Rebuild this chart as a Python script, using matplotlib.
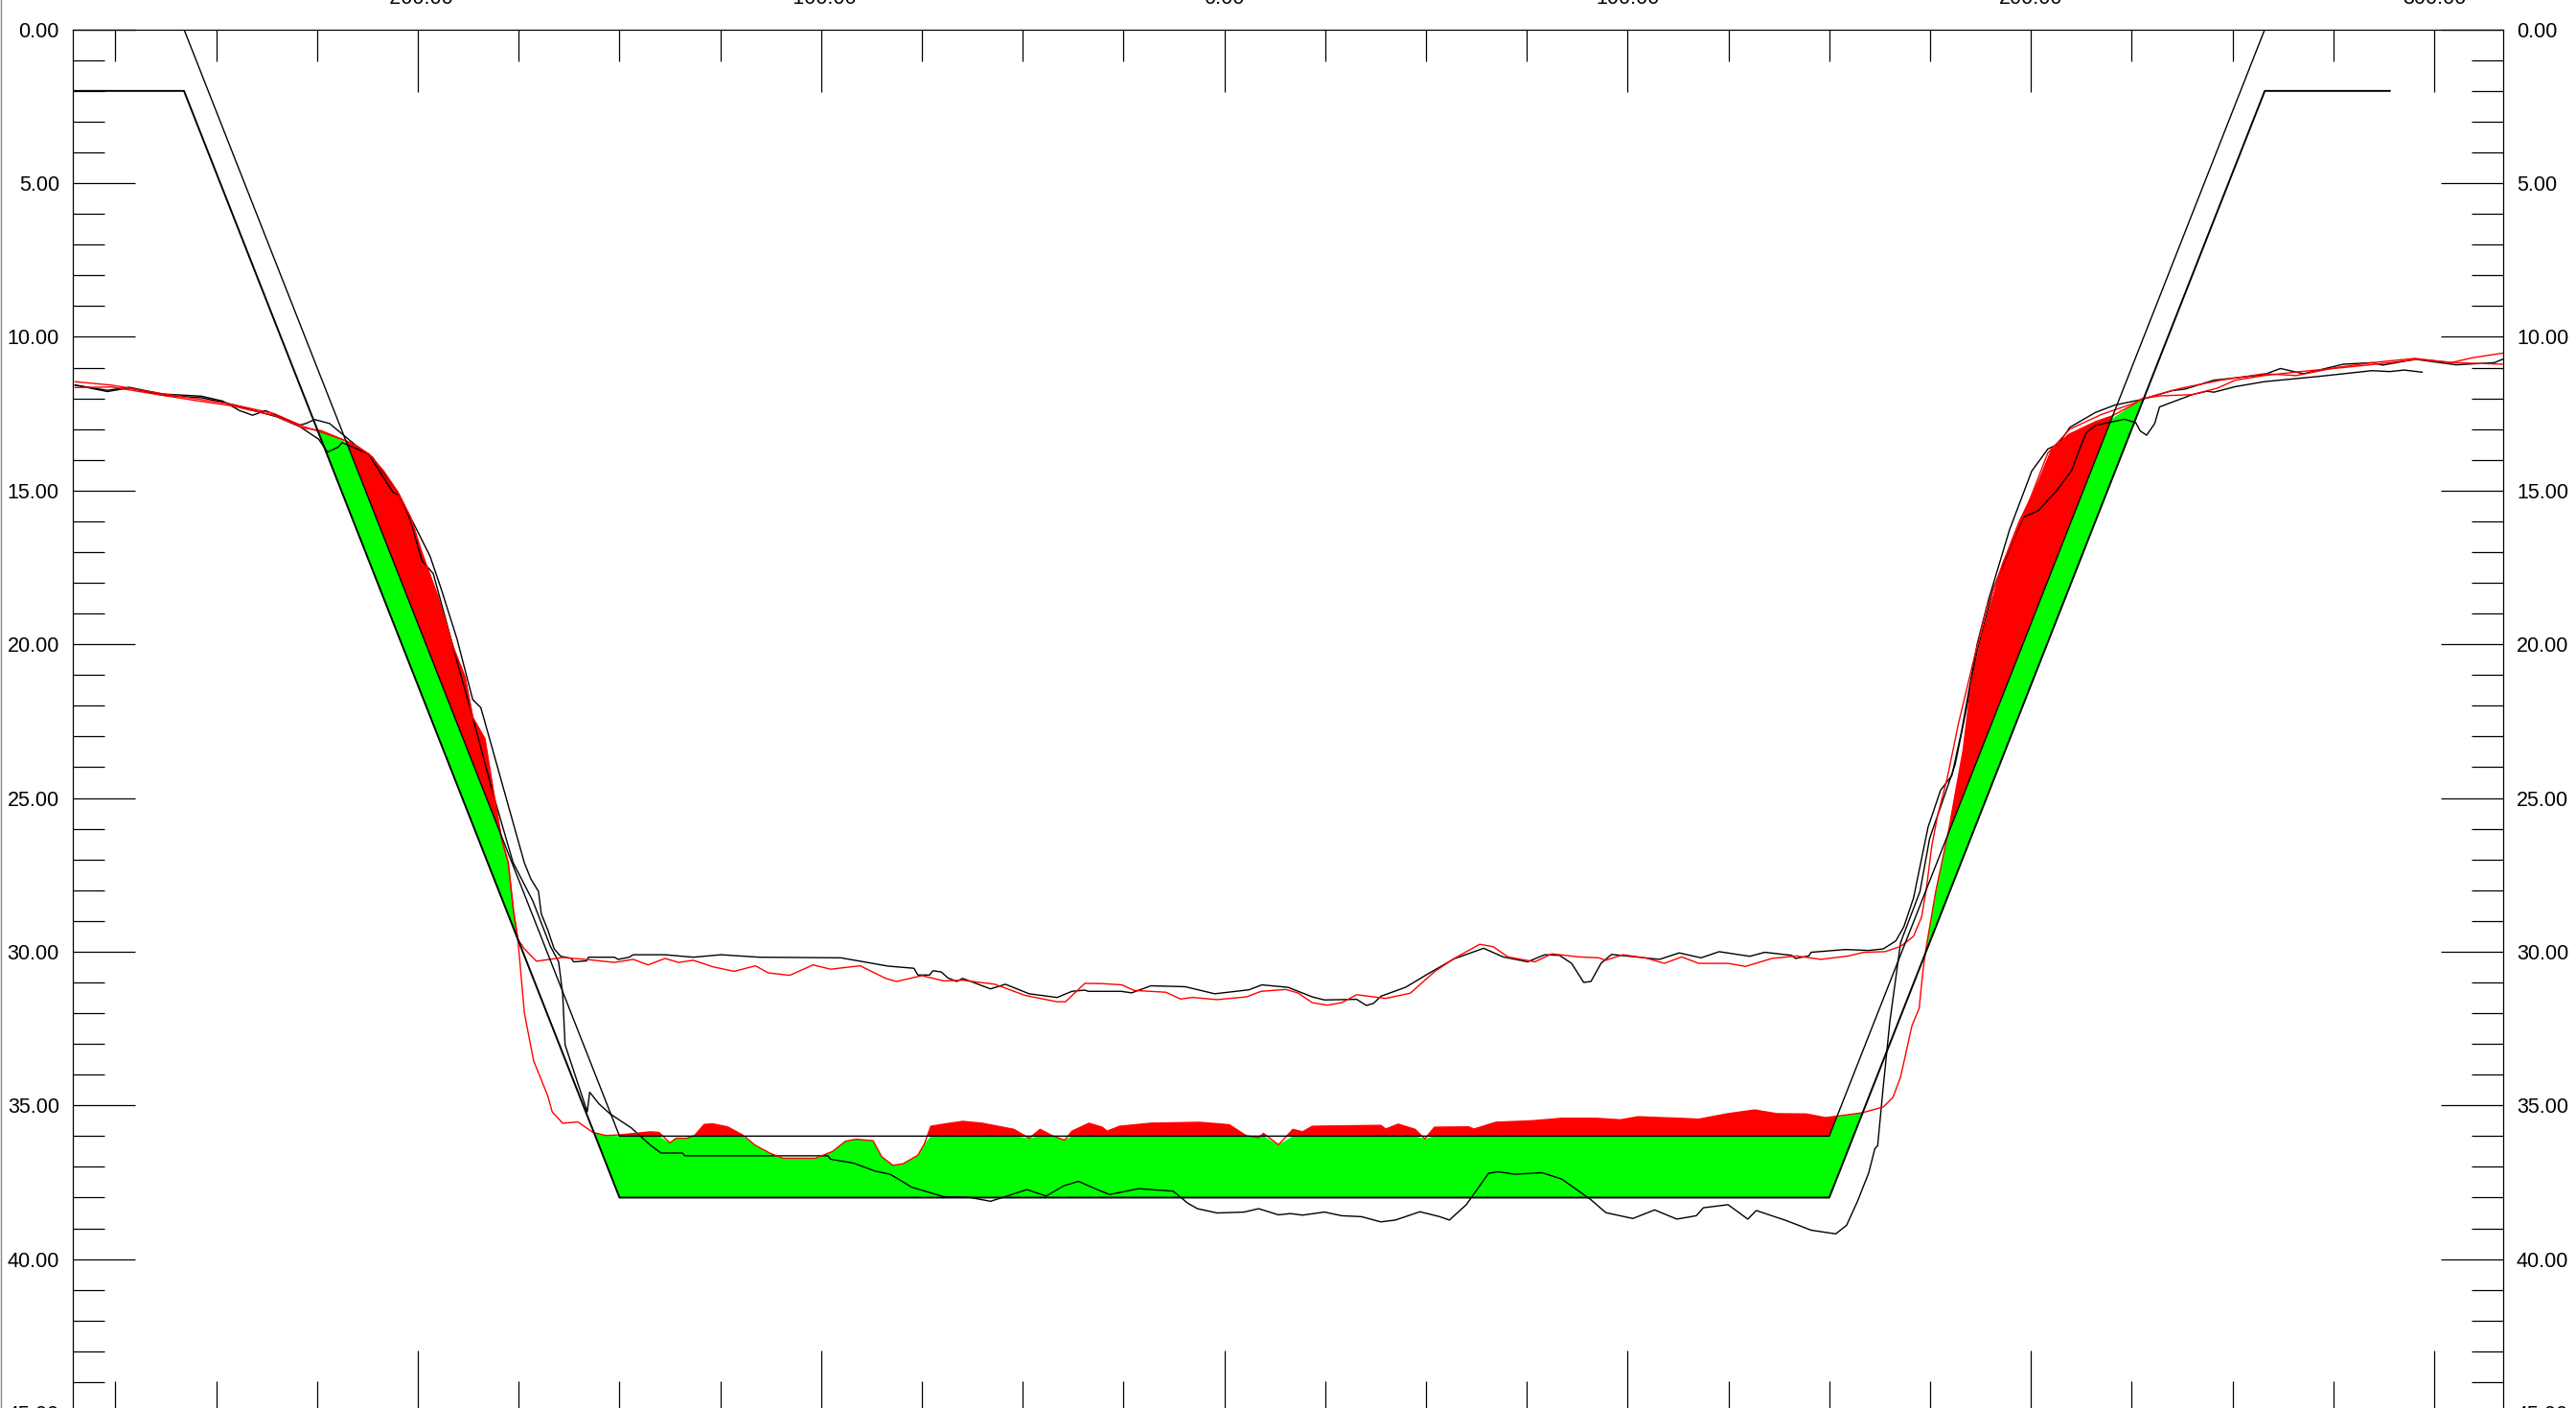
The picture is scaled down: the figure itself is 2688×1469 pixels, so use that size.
import matplotlib
matplotlib.use('Agg')
import matplotlib.pyplot as plt
import numpy as np
from matplotlib.lines import Line2D
from matplotlib.ticker import MultipleLocator, FormatStrFormatter

# design section
inner_x = [-285.5, -258, -150, 150, 258, 289]
inner_y = [0, 0, 36, 36, 0, 0]
outer_x = [-285.5, -258, -150, 150, 258, 289]
outer_y = [2, 2, 38, 38, 2, 2]

# slope shared by both red surveys, left side
slope_x = [-217.7, -215.3, -212.1, -208.5, -205, -201.8, -199, -195.1, -191.1, -188.3, -186.4, -183.4, -181.4, -179.3, -177.6, -176.3, -175.2]
slope_y = [13.39, 13.54, 13.82, 14.37, 15.05, 15.88, 17.03, 18.43, 20.14, 21.08, 22.38, 23.08, 24.7, 26.3, 27.1, 28.67, 29.6]

r1_x = [-285, -276, -264.4, -253.7, -246.3, -235.6, -228.3, -224] + slope_x + [
    -173.6, -170.6, -164, -157.7, -151.3, -146.6, -142.9, -138.7, -135.4, -131.7, -126.9, -121.6, -116.3, -113.1, -107.8,
    -102, -97.7, -90.3, -84, -81.3, -75, -69.6, -64.9, -56.9, -49.5, -41.5, -39.4, -34.6, -30.3, -25.4, -22.4, -14.5,
    -10.9, -7.9, -1.8, 5.5, 9.1, 15.2, 18.2, 21.8, 25.5, 29.1, 32.8, 40, 46.1, 52.2, 57, 63.3, 66.7, 70.3, 77, 81.2,
    87.9, 92.8, 94.6, 98.8, 104.3, 109.1, 113.4, 117.6, 124.9, 129.2, 135.8, 141.9, 147.9, 154.7, 158.6, 163.8, 167.7,
    170.9, 172.9, 174.1, 175.4, 176.9, 179.2, 182, 185.9, 189.1, 193.1, 198.6, 204.2, 209.7, 217.6, 225.6, 228, 235,
    237.3, 247.1, 257.8, 265.8, 275.7, 284.6, 295.3, 304.2, 309.5, 317]
r1_y = [11.46, 11.57, 11.83, 12.04, 12.19, 12.5, 12.92, 13.1] + slope_y + [
    29.91, 30.31, 30.19, 30.26, 30.35, 30.25, 30.43, 30.22, 30.35, 30.28, 30.49, 30.64, 30.46, 30.69, 30.77,
    30.43, 30.57, 30.46, 30.87, 30.97, 30.78, 30.95, 30.93, 31.06, 31.42, 31.63, 31.63, 31.03, 31.04, 31.08, 31.26, 31.32,
    31.54, 31.49, 31.56, 31.47, 31.29, 31.23, 31.34, 31.66, 31.74, 31.66, 31.4, 31.52, 31.35, 30.64, 30.22, 29.76, 29.84, 30.17, 30.33, 30.07,
    30.17, 30.2, 30.28, 30.1, 30.2, 30.38, 30.17, 30.38, 30.38, 30.48, 30.22, 30.14, 30.25, 30.14, 30.02, 30.0, 29.83,
    29.5, 28.87, 27.94, 26.58, 25.55, 24.39, 22.6, 20.46, 18.79, 17.36, 15.68, 13.78, 13.0, 12.52, 12.16, 12.01, 11.75,
    11.67, 11.41, 11.2, 11.26, 11.0, 10.84, 10.7, 10.84, 10.68, 10.53]

r2_x = [-285, -276, -264.4, -253.7, -246.3, -235.6, -228.3, -224] + slope_x + [
    -173.6, -171.3, -167.8, -166.7, -164.1, -160.3, -156.6, -153.4, -150, -142.3, -140.2, -137.5, -136, -133.3, -131.4,
    -129, -126.9, -123.2, -119.5, -116.3, -112.6, -109.4, -101.5, -97.2, -94, -91.4, -87.1, -85, -82.2, -79.7, -76, -74.4,
    -72.8, -69.6, -64.9, -60.1, -52.2, -48.4, -45.7, -42.6, -39.6, -37.8, -33.6, -30.3, -29.1, -26, -18.2, -6.1, 1.2, 5.5,
    8.5, 9.7, 13.4, 17, 19.4, 21.8, 38.8, 40, 43.1, 47.3, 49.7, 52.1, 60.6, 61.9, 67.3, 76.4, 83.7, 92.2, 98.2, 102.5,
    112.8, 117.6, 124.9, 131.5, 137, 144.3, 149.1, 151.9, 158.2, 163.4, 165.8, 167.7, 170.5, 172.3, 173.3, 174.1, 176.4,
    179.6, 183.2, 185.2, 188.3, 193.1, 197, 201.8, 205, 209.3, 216, 220, 225.2, 227.5, 232, 240, 246.2, 250.7, 257.8,
    266.8, 277.5, 289, 296.1, 305, 317]
r2_y = [11.65, 11.63, 11.88, 12.1, 12.24, 12.56, 12.97, 13.05] + slope_y + [
    31.99, 33.55, 34.69, 35.21, 35.58, 35.54, 35.88, 35.98, 35.96, 35.86, 35.88, 36.22, 36.07, 36.07, 35.98,
    35.62, 35.6, 35.7, 35.96, 36.3, 36.56, 36.72, 36.72, 36.5, 36.17, 36.1, 36.15, 36.67, 36.95, 36.9, 36.62, 36.25,
    35.68, 35.61, 35.52, 35.58, 35.78, 36.07, 35.78, 35.99, 36.13, 35.84, 35.58, 35.71, 35.84, 35.68, 35.58, 35.55, 35.63, 35.99,
    36.05, 35.91, 36.28, 35.78, 35.86, 35.68, 35.65, 35.77, 35.61, 35.78, 36.09, 35.71, 35.7, 35.77, 35.55, 35.5, 35.42, 35.42, 35.47, 35.37,
    35.42, 35.45, 35.27, 35.15, 35.27, 35.28, 35.4, 35.35, 35.24, 35.05, 34.74, 34.07, 32.41, 31.84, 30.54, 29.81, 28.04,
    26.06, 23.44, 21.29, 19.5, 17.35, 16.04, 14.73, 13.71, 13.18, 12.76, 12.58, 12.22, 12.01, 11.92, 11.88, 11.67, 11.41, 11.26,
    11.13, 11.0, 10.84, 10.73, 10.84, 10.89]

b1_x = [-285, -277, -271.7, -263.3, -253.7, -248.4, -244.2, -241, -237.8, -229.3, -227.8, -225.6, -221.9, -217.7, -215.3, -211.3,
    -205, -201, -197, -194.3, -190.3, -186.4, -184.4, -183.6, -173.6, -172, -170.1, -169.4, -167.8, -166.2, -164.6, -161.9, -161.4,
    -158.2, -157.7, -151.3, -150.3, -147.6, -146.6, -138.7, -131.7, -124.8, -115.3, -95.1, -83.4, -77, -76, -73.1, -72.3, -70.2,
    -68.6, -66.4, -64.9, -58, -54.3, -48.4, -41.5, -37.8, -34.6, -33.8, -25.6, -23, -18.2, -9.7, -2.4, 6.1, 9.3, 15.8, 21.8, 24.8,
    32.8, 35.2, 37, 38.8, 44.9, 50.9, 57, 64.3, 69.1, 75.2, 79.4, 83.1, 86.1, 89.1, 90.9, 93.4, 96, 107.9, 112.8, 118.2, 122.7,
    130.3, 134, 140.7, 141.6, 144.9, 145.5, 154, 159.8, 163.4, 166.5, 168.5, 170.9, 174.5, 177.6, 180.4, 182.8, 186.7, 189.5,
    194.7, 200.2, 204.2, 206.9, 209.7, 216, 220.8, 227.1, 235, 238.2, 245.4, 249, 257.8, 261.9, 267.6, 277.5, 284.6, 287.2, 295.3,
    305.5, 314.9, 317]
b1_y = [11.57, 11.74, 11.64, 11.86, 11.93, 12.09, 12.4, 12.55, 12.4, 12.87, 12.82, 12.69, 12.82, 13.28, 13.54, 13.91,
    15.05, 16.09, 17.13, 18.17, 19.83, 21.8, 22.06, 22.43, 27.11, 27.63, 28.04, 28.77, 29.29, 29.91, 30.15, 30.22, 30.33,
    30.3, 30.18, 30.18, 30.25, 30.18, 30.1, 30.1, 30.18, 30.1, 30.18, 30.2, 30.47, 30.54, 30.76, 30.76, 30.62, 30.66,
    30.85, 30.97, 30.87, 31.21, 31.06, 31.37, 31.49, 31.29, 31.25, 31.29, 31.29, 31.34, 31.11, 31.14, 31.37, 31.24, 31.08, 31.16, 31.47, 31.57,
    31.55, 31.75, 31.68, 31.45, 31.16, 30.69, 30.23, 29.89, 30.17, 30.33, 30.1, 30.12, 30.38, 31, 30.97, 30.38, 30.09, 30.25, 30.04, 30.2, 30,
    30.15, 30.02, 30.12, 30.22, 30.14, 30.02, 29.93, 29.96, 29.91, 29.65, 29.19, 28.25, 25.95, 24.75, 24.27, 22.84, 19.98, 18.55,
    16.28, 14.37, 13.65, 13.48, 12.94, 12.46, 12.22, 12.05, 11.75, 11.7, 11.41, 11.36, 11.23, 11.03, 11.2, 10.89, 10.84, 10.92, 10.73,
    10.91, 10.84, 10.73]

b2_x = [-285, -277, -271.7, -263.3, -253.7, -248.4, -235, -229.3, -224.6, -222.4, -219.8, -218.8, -212.3, -209.3, -206.2, -204.6,
    -201.8, -199, -196.2, -193.5, -190.3, -186.4, -181.2, -176.4, -171.5, -167.2, -165.1, -164.1, -163.5, -159.8, -158, -157.4,
    -155.1, -152.4, -147.1, -142.3, -139.7, -134.4, -133.8, -98.3, -97.7, -91.9, -86.6, -82.9, -80.2, -77.6, -69.6, -63.3, -58,
    -53.2, -49, -44.2, -39.9, -36.2, -31.5, -28.5, -21.3, -12.7, -9.1, -6.7, -1.8, 4.9, 8.5, 13.4, 16.4, 19.4, 24.8, 29.1, 34,
    38.8, 42.4, 48.5, 53.4, 55.8, 60, 65.5, 67.9, 72.1, 78.8, 83.7, 90.9, 94.6, 101.3, 106.7, 112.2, 117, 118.8, 124.9, 129.8,
    131.9, 139.4, 145.5, 151.6, 154.3, 157, 159.8, 161.3, 162, 163.4, 165, 167.7, 172.5, 174.9, 178.4, 181.2, 183.6, 186.7,
    190.7, 195.5, 198.2, 201.8, 206.2, 210.1, 211.7, 213.7, 216, 223.2, 226, 227.1, 228.7, 230.7, 231.9, 240, 243.6, 245.4, 250.7,
    257.8, 271.2, 284.6, 289, 292.6, 297]
b2_y = [11.57, 11.78, 11.66, 11.9, 11.98, 12.12, 12.6, 12.92, 13.33, 13.75, 13.59, 13.44, 13.8, 14.42, 15.05, 15.15,
    15.98, 17.28, 17.7, 19, 20.56, 22.38, 24.93, 27.1, 28.35, 29.81, 30.33, 31.37, 33.03, 34.49, 35.21, 34.57,
    34.95, 35.27, 35.73, 36.3, 36.55, 36.55, 36.64, 36.64, 36.75, 36.88, 37.14, 37.24, 37.45, 37.66, 37.97, 37.99, 38.12,
    37.92, 37.74, 37.95, 37.62, 37.47, 37.74, 37.9, 37.71, 37.79, 38.18, 38.36, 38.5, 38.47, 38.36, 38.56, 38.52, 38.57, 38.47, 38.59, 38.62,
    38.79, 38.73, 38.46, 38.62, 38.73, 38.23, 37.21, 37.16, 37.24, 37.19, 37.4, 38.07, 38.49, 38.68, 38.4, 38.7, 38.59, 38.33, 38.23, 38.7,
    38.42, 38.75, 39.06, 39.18, 38.9, 38.12, 37.19, 36.41, 36.31, 34.38, 32.3, 29.7, 28.04, 26.31, 24.99, 23.92, 22.37, 20.21,
    18.19, 16.64, 15.86, 15.66, 15.03, 14.35, 13.78, 13.12, 12.88, 12.68, 12.79, 13.06, 13.2, 12.82, 12.28, 11.88, 11.77, 11.8, 11.62,
    11.46, 11.29, 11.1, 11.13, 11.08, 11.15]

plt.rcParams['font.family'] = ['Liberation Sans', 'DejaVu Sans']
plt.rcParams['axes.unicode_minus'] = False

W, H = 2688, 1469
fig = plt.figure(figsize=[W / 100, H / 100], dpi=100)
ax = fig.add_axes([76.3 / W, (H - 1474) / H, (2611.5 - 76.3) / W, (1474 - 30.7) / H])
ax.set_xlim(-285.5, 317)
ax.set_ylim(45, 0)

# cut and fill between the lower red survey and the design section
grid = np.array(sorted(set(r2_x) | {-258, -150, 150, 258}), dtype=float)
grid = grid[(grid > -258) & (grid < 258)]
ground = np.interp(grid, r2_x, r2_y)
inner = np.interp(grid, inner_x, inner_y)
outer = np.interp(grid, outer_x, outer_y)
ax.fill_between(grid, outer, np.maximum(ground, inner), where=ground < outer, color='#00ff00', lw=0, interpolate=True, zorder=1)
ax.fill_between(grid, ground, inner, where=ground < inner, color='#ff0000', lw=0, interpolate=True, zorder=1)

ax.plot(b1_x, b1_y, color='black', lw=1.0, zorder=2)
ax.plot(b2_x, b2_y, color='black', lw=1.0, zorder=2)
ax.plot(r1_x, r1_y, color='#ff0000', lw=1.0, zorder=3)
ax.plot(r2_x, r2_y, color='#ff0000', lw=1.0, zorder=3)
ax.plot(inner_x, inner_y, color='black', lw=1.0, zorder=4)
ax.plot(outer_x, outer_y, color='black', lw=1.4, zorder=4)

ax.xaxis.set_major_locator(MultipleLocator(100))
ax.xaxis.set_minor_locator(MultipleLocator(25))
ax.yaxis.set_major_locator(MultipleLocator(5))
ax.yaxis.set_minor_locator(MultipleLocator(1))
ax.xaxis.set_major_formatter(FormatStrFormatter('%.2f'))
ax.yaxis.set_major_formatter(FormatStrFormatter('%.2f'))
ax.tick_params(axis='both', which='major', direction='in', length=46.8, width=0.9, labelsize=15.5)
ax.tick_params(axis='both', which='minor', direction='in', length=23.8, width=0.9)
ax.tick_params(axis='x', which='both', top=True, bottom=True, labeltop=True, labelbottom=False)
ax.tick_params(axis='x', which='major', pad=15.3)
ax.tick_params(axis='y', which='both', left=True, right=True, labelleft=True, labelright=True, pad=10.4)
for s in ax.spines.values():
    s.set_linewidth(0.9)

fig.add_artist(Line2D([0.7 / W, 0.7 / W], [0, 1], color='#888888', lw=1))

plt.savefig('out.png', dpi=100)
